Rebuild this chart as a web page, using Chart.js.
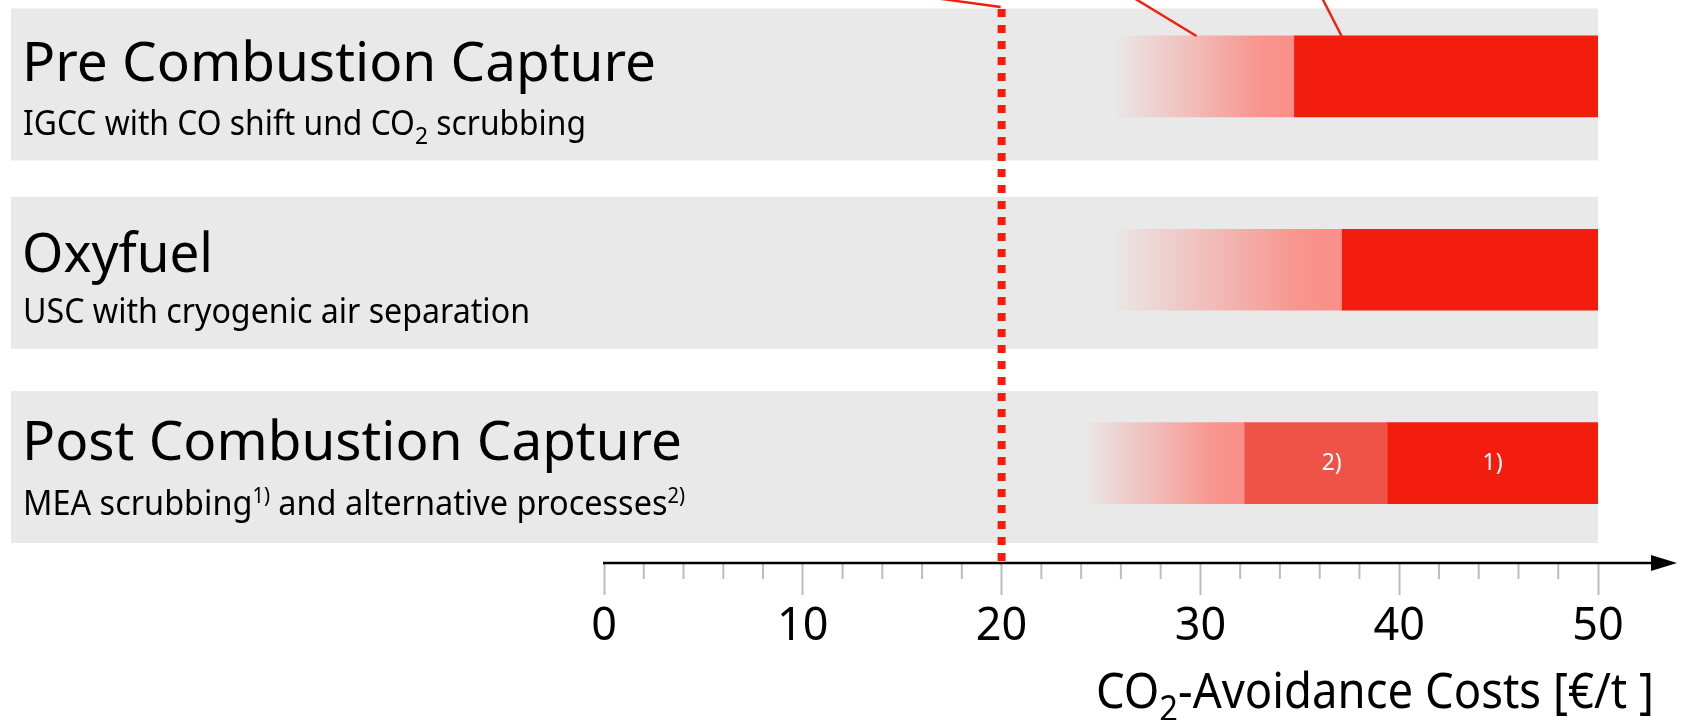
<!DOCTYPE html>
<html>
<head>
<meta charset="utf-8">
<title>CO2 avoidance costs</title>
<script src="https://cdn.jsdelivr.net/npm/chart.js@4.4.0/dist/chart.umd.min.js"></script>
<style>
    html, body { margin: 0; padding: 0; background: #fff; }
    #wrap { width: 1681px; height: 720px; }
</style>
</head>
<body>
<div id="wrap"><canvas id="costChart" width="1681" height="720"></canvas></div>
<script>
// capture routes (top to bottom)
var rowTitles = ['Pre Combustion Capture', 'Oxyfuel', 'Post Combustion Capture'];
var rowSubtitles = [
    [['IGCC with CO shift und CO'], ['2', 'sub'], [' scrubbing']],
    [['USC with cryogenic air separation']],
    [['MEA scrubbing'], ['1)', 'sup'], [' and alternative processes'], ['2)', 'sup']]
];

// cost ranges in €/t CO2
var fadeStart = [25.8, 25.7, 24.3];   // where the uncertain (faded) part begins
var fadeEnd   = [34.7, 37.1, 32.2];
var altEnd    = [null, null, 39.4];   // alternative processes 2)
var rangeEnd  = [50, 50, 50];
var altLabels  = ['', '', '2)'];
var mainLabels = ['', '', '1)'];
var refCost = 20;

// x axis
var xMin = 0, xMax = 50, xStep = 10, xMinorStep = 2;
var axisTitle = [['CO'], ['2', 'sub'], ['-Avoidance Costs [€/t ]']];

var RED = '#F21D0C';
var MID = '#EF5347';
var PINK = [249, 143, 136];
var FONT = '"Noto Sans", "Open Sans", sans-serif';

function rowsWith(startArr, endArr) {
    var out = [];
    for (var i = 0; i < rowTitles.length; i++) {
        if (startArr[i] == null || endArr[i] == null) continue;
        out.push({ y: i, x: [startArr[i], endArr[i]] });
    }
    return out;
}

var mainStart = altEnd.map(function(v, i) { return v != null ? v : fadeEnd[i]; });

// text with sub/superscripts, optionally squeezed to a given width
function drawRich(c, segs, x, y, size, fitWidth, alignRight) {
    var parts = segs.map(function(s) {
        var kind = s[1] || '';
        return { text: s[0], kind: kind, size: kind ? size * (kind === 'sub' ? 0.72 : 0.62) : size };
    });
    var total = 0;
    parts.forEach(function(p) {
        c.font = p.size + 'px ' + FONT;
        p.w = c.measureText(p.text).width;
        total += p.w;
    });
    var sx = fitWidth ? fitWidth / total : 1;
    c.save();
    c.translate(alignRight ? x - total * sx : x, y);
    c.scale(sx, 1);
    c.textAlign = 'left';
    c.textBaseline = 'alphabetic';
    var cx = 0;
    parts.forEach(function(p) {
        c.font = p.size + 'px ' + FONT;
        var dy = p.kind === 'sub' ? size * 0.25 : (p.kind === 'sup' ? -size * 0.35 : 0);
        c.fillText(p.text, cx, dy);
        cx += p.w;
    });
    c.restore();
}

var bandPlugin = {
    id: 'bands',
    beforeDatasetsDraw: function(chart) {
        var c = chart.ctx, xs = chart.scales.x, ys = chart.scales.y;
        var shift = [-68, -73, -72];
        var titleY = [73, 75, 69];
        var subY = [127, 126, 124];
        var titleW = [634, 191, 660];
        var subW = [563, 507, 662];
        c.save();
        for (var i = 0; i < rowTitles.length; i++) {
            var top = ys.getPixelForValue(i) + shift[i];
            c.fillStyle = '#E9E9E9';
            c.fillRect(11, top, xs.getPixelForValue(xMax) - 11, 152);
            c.fillStyle = '#000';
            drawRich(c, [[rowTitles[i]]], 22, top + titleY[i], 54, titleW[i]);
            drawRich(c, rowSubtitles[i], 23, top + subY[i], 34, subW[i]);
        }
        c.restore();
    }
};

var overlayPlugin = {
    id: 'overlay',
    afterDatasetsDraw: function(chart) {
        var c = chart.ctx, xs = chart.scales.x, ys = chart.scales.y, area = chart.chartArea;
        c.save();

        // segment labels 1) 2)
        c.fillStyle = '#fff';
        c.font = '23px ' + FONT;
        c.textAlign = 'center';
        c.textBaseline = 'middle';
        chart.data.datasets.forEach(function(ds, d) {
            if (!ds.segLabels) return;
            chart.getDatasetMeta(d).data.forEach(function(el, j) {
                var txt = ds.segLabels[ds.data[j].y];
                if (txt) c.fillText(txt, (el.x + el.base) / 2 + (ds.labelShift || 0), el.y);
            });
        });

        // reference line at 20 €/t
        var rx = xs.getPixelForValue(refCost);
        c.strokeStyle = RED;
        c.lineWidth = 8;
        c.setLineDash([8, 8]);
        c.beginPath();
        c.moveTo(rx, area.top + 1);
        c.lineTo(rx, xs.top);
        c.stroke();
        c.setLineDash([]);

        // leader lines to the labels above the picture
        var barTop = ys.getPixelForValue(0) - 40.5;
        var leaders = [
            [rx - 1, area.top - 1, -66, -9],
            [xs.getPixelForValue(29.8), barTop, -61, -37],
            [xs.getPixelForValue(fadeEnd[1]), barTop, -19, -37]
        ];
        c.lineWidth = 2.4;
        leaders.forEach(function(l) {
            c.beginPath();
            c.moveTo(l[0] + l[2], l[1] + l[3]);
            c.lineTo(l[0], l[1]);
            c.stroke();
        });

        // minor ticks
        c.strokeStyle = '#BDBDBD';
        c.lineWidth = 2;
        for (var v = xMin; v <= xMax; v += xMinorStep) {
            if (v % xStep === 0) continue;
            var px = xs.getPixelForValue(v);
            c.beginPath();
            c.moveTo(px, xs.top);
            c.lineTo(px, xs.top + 16);
            c.stroke();
        }

        // axis line with arrow
        var ay = xs.top;
        c.strokeStyle = '#000';
        c.lineWidth = 2.5;
        c.beginPath();
        c.moveTo(xs.getPixelForValue(xMin) - 1, ay);
        c.lineTo(xs.right + 56, ay);
        c.stroke();
        c.fillStyle = '#000';
        c.beginPath();
        c.moveTo(xs.right + 53, ay - 8);
        c.lineTo(xs.right + 79, ay);
        c.lineTo(xs.right + 53, ay + 8);
        c.closePath();
        c.fill();

        // axis title
        c.fillStyle = '#000';
        drawRich(c, axisTitle, 1654, 708, 50, 558, true);

        c.restore();
    }
};

var fadeFill = function(ctx) {
    var chart = ctx.chart;
    if (!chart.chartArea || ctx.type !== 'data') return 'rgb(' + PINK.join(',') + ')';
    var xs = chart.scales.x;
    var r = ctx.raw.x;
    var x0 = xs.getPixelForValue(r[0]), x1 = xs.getPixelForValue(r[1]);
    var g = chart.ctx.createLinearGradient(x0, 0, x1, 0);
    var p = PINK.join(',');
    g.addColorStop(0, 'rgba(' + p + ',0.03)');
    g.addColorStop(0.5, 'rgba(' + p + ',0.58)');
    g.addColorStop(0.8, 'rgba(' + p + ',0.93)');
    g.addColorStop(1, 'rgba(' + p + ',1)');
    return g;
};

var ctx = document.getElementById('costChart').getContext('2d');
var costChart = new Chart(ctx, {
    type: 'bar',
    data: {
        datasets: [
            { label: 'range', data: rowsWith(fadeStart, fadeEnd), backgroundColor: fadeFill },
            { label: 'alternative processes', data: rowsWith(fadeEnd, altEnd), backgroundColor: MID, segLabels: altLabels, labelShift: 16 },
            { label: 'MEA scrubbing', data: rowsWith(mainStart, rangeEnd), backgroundColor: RED, segLabels: mainLabels }
        ]
    },
    options: {
        indexAxis: 'y',
        responsive: false,
        animation: false,
        datasets: {
            bar: { grouped: false, barThickness: 81, borderWidth: 0 }
        },
        layout: { padding: { left: 604, right: 83, top: 8, bottom: 61 } },
        plugins: {
            legend: { display: false },
            tooltip: { enabled: false }
        },
        scales: {
            x: {
                type: 'linear',
                min: xMin,
                max: xMax,
                ticks: {
                    stepSize: xStep,
                    color: '#000',
                    padding: 5,
                    font: { family: FONT, size: 45 }
                },
                grid: { drawOnChartArea: false, tickLength: 32, tickColor: '#BDBDBD', tickWidth: 2 },
                border: { display: false }
            },
            y: {
                type: 'linear',
                reverse: true,
                offset: false,
                min: -0.354,
                max: 2.517,
                display: false
            }
        }
    },
    plugins: [bandPlugin, overlayPlugin]
});
</script>
</body>
</html>
